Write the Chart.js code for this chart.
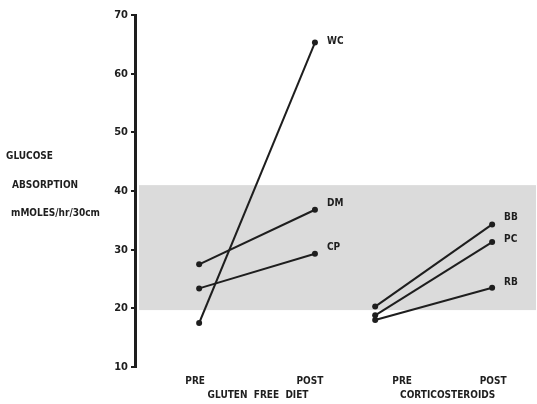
<!DOCTYPE html>
<html>
<head>
<meta charset="utf-8">
<script src="https://cdn.jsdelivr.net/npm/chart.js@4.4.0/dist/chart.umd.min.js"></script>
<style>
   html, body { margin: 0; padding: 0; background: #fff; }
   #wrap { width: 537px; height: 404px; position: relative; }
</style>
</head>
<body>
<div id="wrap"><canvas id="chart"></canvas></div>
<script>
// stage positions on the x axis (gluten pre/post, corticosteroid pre/post)
const stageX = [0, 1, 1.52, 2.53];
const stageLabels = ["PRE", "POST", "PRE", "POST"];
const groupLabels = ["GLUTEN  FREE  DIET", "CORTICOSTEROIDS"];

const subjects = ["WC", "DM", "CP", "BB", "PC", "RB"];
const subjectGroup = [0, 0, 0, 1, 1, 1];
const preValues = [17.5, 27.5, 23.4, 20.3, 18.8, 18.0];
const postValues = [65.3, 36.8, 29.3, 34.3, 31.3, 23.5];

const normalRange = [19.7, 41.0];
const yTicks = [10, 20, 30, 40, 50, 60, 70];
const yTitle = ["GLUCOSE", "ABSORPTION", "mMOLES/hr/30cm"];

const FONT = "'DejaVu Sans Condensed', 'DejaVu Sans', sans-serif";
const INK = "#1e1e1e";

// nudges for hand-placed text
const nameOffsetY = [-1, -6, -6, -7, -3, -5];
const stageLabelDx = [-4, -5, 27, 1];
const groupLabelDx = [1, 14];

const datasets = subjects.map((name, i) => {
   const g = subjectGroup[i] * 2;
   return {
      label: name,
      data: [
         { x: stageX[g], y: preValues[i] },
         { x: stageX[g + 1], y: postValues[i] },
      ],
      borderColor: INK,
      backgroundColor: INK,
      borderWidth: 2,
      pointRadius: 3,
      pointBorderWidth: 0,
      showLine: true,
      fill: false,
   };
});

// shaded normal range behind the lines
const bandPlugin = {
   id: "band",
   beforeDatasetsDraw(chart) {
      const { ctx, chartArea, scales } = chart;
      const top = scales.y.getPixelForValue(normalRange[1]);
      const bottom = scales.y.getPixelForValue(normalRange[0]);
      ctx.save();
      ctx.fillStyle = "#dbdbdb";
      ctx.fillRect(chartArea.left + 4, top, chart.width - chartArea.left - 5, bottom - top);
      ctx.restore();
   },
};

// subject names, x stage labels, y title
const textPlugin = {
   id: "texts",
   afterDatasetsDraw(chart) {
      const { ctx, scales } = chart;
      ctx.save();
      ctx.fillStyle = INK;
      ctx.font = "bold 10px " + FONT;
      ctx.textBaseline = "middle";

      ctx.textAlign = "left";
      subjects.forEach((name, i) => {
         const pt = chart.getDatasetMeta(i).data[1];
         ctx.fillText(name, pt.x + 12, pt.y + nameOffsetY[i]);
      });

      ctx.textAlign = "center";
      stageX.forEach((v, i) => {
         ctx.fillText(stageLabels[i], scales.x.getPixelForValue(v) + stageLabelDx[i], 381);
      });
      groupLabels.forEach((txt, i) => {
         const mid = (scales.x.getPixelForValue(stageX[i * 2]) + scales.x.getPixelForValue(stageX[i * 2 + 1])) / 2;
         ctx.fillText(txt, mid + groupLabelDx[i], 395);
      });

      ctx.textAlign = "left";
      ctx.fillText(yTitle[0], 6, 156);
      ctx.fillText(yTitle[1], 12, 185);
      ctx.fillText(yTitle[2], 11, 213);
      ctx.restore();
   },
};

new Chart(document.getElementById("chart"), {
   type: "scatter",
   data: { datasets },
   plugins: [bandPlugin, textPlugin],
   options: {
      responsive: true,
      maintainAspectRatio: false,
      animation: false,
      layout: { padding: { top: 15, bottom: 37, left: 0, right: 0 } },
      plugins: {
         legend: { display: false },
         tooltip: { enabled: false },
      },
      scales: {
         x: {
            type: "linear",
            display: false,
            min: -0.554,
            max: 2.883,
         },
         y: {
            type: "linear",
            min: 10,
            max: 70,
            afterFit(scale) {
               scale.width = 135;
            },
            afterBuildTicks(scale) {
               scale.ticks = yTicks.map((v) => ({ value: v }));
            },
            border: { display: true, color: INK, width: 3 },
            grid: {
               drawOnChartArea: false,
               drawTicks: true,
               tickLength: 4,
               color: INK,
               lineWidth: 2,
            },
            ticks: {
               color: INK,
               padding: 3,
               font: { family: FONT, size: 11, weight: "bold" },
            },
         },
      },
   },
});
</script>
</body>
</html>
